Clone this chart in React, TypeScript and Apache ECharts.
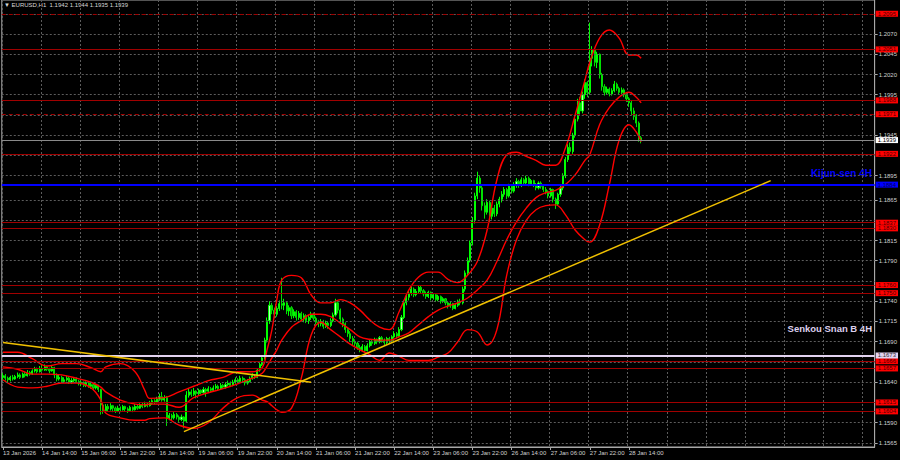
import React, { useEffect, useRef } from "react";
import * as echarts from "echarts";

const TITLE = "\u25BC EURUSD,H1  1.1942 1.1944 1.1935 1.1939";
const timeLabels = [
  "13 Jan 2026", "14 Jan 14:00", "15 Jan 06:00", "15 Jan 22:00", "16 Jan 14:00",
  "19 Jan 06:00", "19 Jan 22:00", "20 Jan 14:00", "21 Jan 06:00", "21 Jan 22:00",
  "22 Jan 14:00", "23 Jan 06:00", "23 Jan 22:00", "26 Jan 14:00", "27 Jan 06:00",
  "27 Jan 22:00", "28 Jan 14:00",
];
const LABEL_STEP = 16;
const TOTAL_SLOTS = 357;

const firstOpen = 1.1646;
const closes = [
  1.1648,1.1645,1.1643,1.1646,1.1644,1.1647,1.1649,1.1646,1.1650,1.1648,
  1.1652,1.1650,1.1654,1.1656,1.1653,1.1657,1.1655,1.1659,1.1656,1.1654,
  1.1658,1.1649,1.1644,1.1646,1.1641,1.1643,1.1645,1.1640,1.1642,1.1644,
  1.1641,1.1638,1.1640,1.1636,1.1639,1.1635,1.1637,1.1633,1.1636,1.1631,
  1.1612,1.1605,1.1610,1.1607,1.1611,1.1608,1.1604,1.1608,1.1606,1.1610,
  1.1607,1.1605,1.1609,1.1606,1.1610,1.1608,1.1612,1.1610,1.1613,1.1611,
  1.1614,1.1617,1.1615,1.1619,1.1622,1.1618,1.1621,1.1596,1.1599,1.1596,
  1.1600,1.1597,1.1594,1.1597,1.1592,1.1624,1.1628,1.1625,1.1629,1.1626,
  1.1630,1.1627,1.1631,1.1629,1.1632,1.1630,1.1633,1.1635,1.1632,1.1636,
  1.1634,1.1637,1.1639,1.1636,1.1640,1.1643,1.1641,1.1645,1.1643,1.1639,
  1.1641,1.1645,1.1648,1.1646,1.1655,1.1662,1.1670,1.1692,1.1716,1.1735,
  1.1729,1.1724,1.1731,1.1737,1.1735,1.1738,1.1728,1.1732,1.1722,1.1727,
  1.1720,1.1725,1.1718,1.1722,1.1716,1.1720,1.1724,1.1719,1.1714,1.1712,
  1.1715,1.1709,1.1713,1.1710,1.1716,1.1723,1.1738,1.1729,1.1718,1.1712,
  1.1705,1.1700,1.1694,1.1690,1.1688,1.1683,1.1680,1.1684,1.1679,1.1685,
  1.1690,1.1688,1.1693,1.1690,1.1695,1.1692,1.1689,1.1694,1.1691,1.1696,
  1.1700,1.1697,1.1705,1.1720,1.1738,1.1745,1.1750,1.1755,1.1748,1.1752,
  1.1757,1.1753,1.1749,1.1746,1.1751,1.1744,1.1748,1.1742,1.1746,1.1740,
  1.1743,1.1738,1.1734,1.1737,1.1731,1.1735,1.1740,1.1738,1.1755,1.1775,
  1.1790,1.1812,1.1840,1.1870,1.1892,1.1880,1.1858,1.1850,1.1862,1.1845,
  1.1855,1.1848,1.1860,1.1866,1.1872,1.1878,1.1870,1.1882,1.1876,1.1884,
  1.1888,1.1883,1.1890,1.1886,1.1892,1.1885,1.1889,1.1884,1.1880,1.1886,
  1.1882,1.1878,1.1875,1.1870,1.1878,1.1866,1.1860,1.1872,1.1880,1.1895,
  1.1915,1.1930,1.1925,1.1945,1.1965,1.1985,1.1975,1.1995,1.2010,1.1998,
  1.2040,1.2050,1.2035,1.2045,1.2020,1.2005,1.1998,1.2002,1.1996,1.2000,
  1.2008,1.2003,1.1998,1.2001,1.1995,1.1990,1.1985,1.1975,1.1968,1.1960,
  1.1942,1.1939,
];
const highs = [
  1.1651,1.1650,1.1647,1.1648,1.1649,1.1649,1.1652,1.1651,1.1652,1.1653,
  1.1655,1.1654,1.1656,1.1659,1.1658,1.1660,1.1661,1.1662,1.1660,1.1658,
  1.1661,1.1659,1.1651,1.1649,1.1648,1.1646,1.1648,1.1647,1.1645,1.1646,
  1.1646,1.1643,1.1642,1.1641,1.1641,1.1640,1.1639,1.1638,1.1638,1.1637,
  1.1632,1.1614,1.1613,1.1613,1.1614,1.1612,1.1610,1.1611,1.1610,1.1612,
  1.1611,1.1609,1.1611,1.1610,1.1613,1.1612,1.1614,1.1615,1.1616,1.1615,
  1.1617,1.1619,1.1619,1.1622,1.1626,1.1628,1.1624,1.1623,1.1602,1.1601,
  1.1603,1.1602,1.1599,1.1600,1.1598,1.1629,1.1632,1.1631,1.1633,1.1630,
  1.1632,1.1631,1.1634,1.1633,1.1635,1.1634,1.1636,1.1638,1.1637,1.1639,
  1.1638,1.1640,1.1642,1.1641,1.1643,1.1646,1.1645,1.1648,1.1647,1.1645,
  1.1644,1.1647,1.1651,1.1650,1.1657,1.1664,1.1673,1.1695,1.1720,1.1740,
  1.1738,1.1732,1.1734,1.1741,1.1769,1.1743,1.1740,1.1735,1.1734,1.1730,
  1.1729,1.1728,1.1727,1.1725,1.1724,1.1723,1.1727,1.1726,1.1721,1.1717,
  1.1718,1.1717,1.1716,1.1715,1.1719,1.1726,1.1743,1.1740,1.1731,1.1720,
  1.1714,1.1708,1.1703,1.1697,1.1693,1.1690,1.1686,1.1687,1.1686,1.1688,
  1.1692,1.1693,1.1695,1.1694,1.1697,1.1697,1.1694,1.1696,1.1696,1.1698,
  1.1703,1.1702,1.1708,1.1723,1.1741,1.1749,1.1753,1.1758,1.1757,1.1755,
  1.1760,1.1759,1.1755,1.1752,1.1753,1.1752,1.1750,1.1749,1.1748,1.1747,
  1.1745,1.1744,1.1740,1.1739,1.1738,1.1737,1.1742,1.1743,1.1758,1.1778,
  1.1794,1.1815,1.1844,1.1874,1.1900,1.1895,1.1883,1.1862,1.1866,1.1864,
  1.1858,1.1859,1.1863,1.1869,1.1876,1.1881,1.1880,1.1885,1.1884,1.1887,
  1.1892,1.1890,1.1893,1.1892,1.1895,1.1894,1.1891,1.1890,1.1886,1.1888,
  1.1888,1.1884,1.1881,1.1877,1.1880,1.1879,1.1868,1.1874,1.1883,1.1898,
  1.1918,1.1934,1.1936,1.1948,1.1969,1.1990,1.1992,1.1999,1.2014,1.2012,
  1.2084,1.2055,1.2052,1.2048,1.2046,1.2022,1.2008,1.2005,1.2004,1.2003,
  1.2012,1.2010,1.2005,1.2004,1.2003,1.1997,1.1992,1.1988,1.1979,1.1971,
  1.1962,1.1944,
];
const lows = [
  1.1643,1.1642,1.1640,1.1641,1.1642,1.1643,1.1645,1.1644,1.1645,1.1646,
  1.1647,1.1648,1.1649,1.1652,1.1651,1.1652,1.1653,1.1654,1.1654,1.1651,
  1.1653,1.1645,1.1641,1.1642,1.1639,1.1639,1.1641,1.1638,1.1638,1.1640,
  1.1639,1.1636,1.1635,1.1634,1.1634,1.1633,1.1632,1.1630,1.1631,1.1628,
  1.1600,1.1601,1.1603,1.1604,1.1605,1.1603,1.1602,1.1603,1.1603,1.1605,
  1.1604,1.1602,1.1604,1.1603,1.1605,1.1606,1.1607,1.1608,1.1609,1.1609,
  1.1610,1.1612,1.1613,1.1614,1.1617,1.1616,1.1616,1.1586,1.1593,1.1593,
  1.1594,1.1594,1.1591,1.1592,1.1583,1.1590,1.1621,1.1622,1.1623,1.1620,
  1.1624,1.1625,1.1626,1.1622,1.1627,1.1628,1.1629,1.1631,1.1630,1.1631,
  1.1632,1.1632,1.1635,1.1634,1.1635,1.1638,1.1639,1.1640,1.1640,1.1636,
  1.1637,1.1640,1.1643,1.1644,1.1645,1.1653,1.1660,1.1668,1.1689,1.1712,
  1.1724,1.1719,1.1721,1.1728,1.1730,1.1729,1.1724,1.1722,1.1718,1.1719,
  1.1716,1.1717,1.1715,1.1714,1.1713,1.1712,1.1717,1.1716,1.1711,1.1708,
  1.1709,1.1706,1.1707,1.1706,1.1708,1.1714,1.1721,1.1725,1.1714,1.1708,
  1.1701,1.1696,1.1690,1.1686,1.1684,1.1680,1.1677,1.1678,1.1676,1.1678,
  1.1683,1.1685,1.1686,1.1687,1.1688,1.1689,1.1686,1.1687,1.1688,1.1689,
  1.1694,1.1694,1.1695,1.1703,1.1718,1.1735,1.1741,1.1747,1.1745,1.1746,
  1.1750,1.1750,1.1746,1.1743,1.1744,1.1741,1.1742,1.1739,1.1740,1.1737,
  1.1738,1.1735,1.1731,1.1732,1.1729,1.1730,1.1733,1.1735,1.1736,1.1752,
  1.1772,1.1788,1.1809,1.1836,1.1866,1.1874,1.1852,1.1842,1.1847,1.1838,
  1.1841,1.1844,1.1845,1.1856,1.1862,1.1869,1.1866,1.1868,1.1873,1.1874,
  1.1880,1.1880,1.1881,1.1883,1.1884,1.1882,1.1883,1.1881,1.1877,1.1878,
  1.1879,1.1875,1.1872,1.1867,1.1868,1.1862,1.1854,1.1858,1.1869,1.1877,
  1.1892,1.1912,1.1920,1.1922,1.1942,1.1962,1.1970,1.1972,1.1990,1.1992,
  1.1995,1.2030,1.2030,1.2028,1.2015,1.2000,1.1994,1.1995,1.1993,1.1994,
  1.1998,1.2000,1.1995,1.1996,1.1992,1.1986,1.1980,1.1970,1.1964,1.1955,
  1.1937,1.1935,
];

const bandIdx = [
  0,6,12,18,24,30,36,40,42,48, 54,58,60,66,72,78,84,90,96,102,
  106,108,110,112,114,118,122,126,130,134, 138,142,146,150,154,158,162,166,170,174,
  178,182,186,190,194,198,202,206,210,214, 218,222,226,230,234,238,240,244,248,252,
  256,259,261,
];
const bandUpper = [
  1.1677,1.1677,1.1669,1.1660,1.1663,1.1663,1.1658,1.1653,1.1659,1.1663,
  1.1653,1.1630,1.1620,1.1621,1.1628,1.1635,1.1642,1.1646,1.1653,1.1653,
  1.1658,1.1680,1.1705,1.1742,1.1766,1.1772,1.1769,1.1748,1.1738,1.1738,
  1.1742,1.1738,1.1729,1.1717,1.1708,1.1705,1.1727,1.1754,1.1770,1.1776,
  1.1776,1.1767,1.1763,1.1772,1.1789,1.1828,1.1890,1.1921,1.1924,1.1919,
  1.1914,1.1908,1.1908,1.1929,1.1970,1.2013,1.2035,1.2065,1.2075,1.2065,
  1.2044,1.2044,1.2040,
];
const bandMiddle = [
  1.1659,1.1656,1.1650,1.1650,1.1649,1.1645,1.1640,1.1634,1.1628,1.1618,
  1.1613,1.1612,1.1613,1.1613,1.1609,1.1621,1.1627,1.1632,1.1638,1.1645,
  1.1651,1.1660,1.1670,1.1680,1.1692,1.1708,1.1716,1.1724,1.1724,1.1721,
  1.1713,1.1705,1.1696,1.1693,1.1692,1.1692,1.1696,1.1701,1.1711,1.1721,
  1.1729,1.1734,1.1738,1.1744,1.1754,1.1766,1.1789,1.1816,1.1838,1.1855,
  1.1868,1.1874,1.1877,1.1884,1.1896,1.1914,1.1921,1.1958,1.1979,1.1992,
  1.1998,1.1992,1.1985,
];
const bandLower = [
  1.1643,1.1634,1.1633,1.1635,1.1639,1.1639,1.1633,1.1618,1.1602,1.1596,
  1.1593,1.1593,1.1595,1.1596,1.1587,1.1583,1.1590,1.1608,1.1621,1.1624,
  1.1618,1.1616,1.1611,1.1606,1.1603,1.1608,1.1645,1.1698,1.1714,1.1705,
  1.1696,1.1687,1.1680,1.1674,1.1667,1.1676,1.1672,1.1667,1.1667,1.1667,
  1.1671,1.1676,1.1690,1.1705,1.1702,1.1686,1.1705,1.1772,1.1816,1.1840,
  1.1853,1.1858,1.1859,1.1847,1.1828,1.1816,1.1813,1.1834,1.1884,1.1939,
  1.1958,1.1949,1.1937,
];

const gridLevels = [
  1.1565,1.1590,1.1615,1.1640,1.1665,1.1690,1.1715,1.1740,1.1765,1.1790,1.1815,
  1.1840,1.1865,1.1895,1.1920,1.1945,1.1970,1.1995,1.2020,1.2045,1.2070,1.2095,
];
const priceLabels = [
  1.1565,1.1590,1.1640,1.1690,1.1715,1.1740,1.1790,1.1815,1.1865,1.1895,
  1.1945,1.1995,1.2020,1.2045,1.2070,
];
const redLevels = [1.2095,1.2051,1.1988,1.1971,1.1922,1.1837,1.1830,1.1760,1.1750,1.1666,1.1657,1.1615,1.1604];
const dashedLevels = [1.2095,1.1971];
const kijunLevel = 1.1884;
const senkouBLevel = 1.1673;
const bidLevel = 1.1939;
const trendDown = [[0, 1.1689], [126, 1.1640]];
const trendUp = [[74, 1.1579], [314, 1.1889]];

const Y_MIN = 1.156;
const Y_MAX = 1.2112;
const FONT = "'Liberation Sans', Arial, sans-serif";

export default function App() {
  const ref = useRef<HTMLDivElement>(null);
  useEffect(() => {
    const chart = echarts.init(ref.current!, null, { renderer: "svg" });
    const candleData = closes.map((c, i) => [i === 0 ? firstOpen : closes[i - 1], c, lows[i], highs[i]]);
    const cats = Array.from({ length: TOTAL_SLOTS }, (_, i) => String(i));
    const isGridSlot = (i: number) => i % LABEL_STEP === 0;
    const isTimeLabel = (i: number) => i % LABEL_STEP === 0 && i / LABEL_STEP < timeLabels.length;
    const band = (vals: number[]) => bandIdx.map((b, k) => [b, vals[k]]);
    const boxLabel = (bg: string, fg: string) => ({
      show: true,
      position: "end",
      distance: 1,
      formatter: (p: any) => Number(p.value).toFixed(4),
      backgroundColor: bg,
      color: fg,
      fontSize: 6,
      lineHeight: 6,
      fontFamily: FONT,
      padding: [0, 2, 0, 2],
    });

    const option: any = {
      animation: false,
      backgroundColor: "#000000",
      grid: { left: 1, right: 25, top: 0, bottom: 13, show: true, borderColor: "#a8a8a8", borderWidth: 1, backgroundColor: "#000000" },
      xAxis: {
        type: "category",
        data: cats,
        boundaryGap: true,
        axisLine: { show: true, lineStyle: { color: "#a8a8a8" } },
        axisTick: { show: true, interval: (i: number) => isTimeLabel(i), alignWithLabel: true, length: 3, lineStyle: { color: "#a8a8a8" } },
        axisLabel: {
          interval: (i: number) => isTimeLabel(i),
          formatter: (_v: string, i: number) => timeLabels[i / LABEL_STEP] ?? "",
          align: "left",
          color: "#d0d0d0",
          fontSize: 6,
          fontFamily: FONT,
          margin: 3,
          hideOverlap: false,
        },
        splitLine: { show: true, interval: (i: number) => isGridSlot(i), lineStyle: { color: "#5c5c5c", type: [2, 2], width: 1 } },
      },
      yAxis: {
        type: "value",
        position: "right",
        min: Y_MIN,
        max: Y_MAX,
        scale: true,
        axisLine: { show: true, lineStyle: { color: "#a8a8a8" } },
        axisTick: { show: true, customValues: priceLabels, length: 3, lineStyle: { color: "#a8a8a8" } },
        axisLabel: { customValues: priceLabels, formatter: (v: number) => v.toFixed(4), color: "#d0d0d0", fontSize: 6, lineHeight: 6, fontFamily: FONT, margin: 4 },
        splitLine: { show: false },
      },
      graphic: [
        { type: "text", left: 4, top: 2, style: { text: TITLE, fill: "#d8d8d8", font: `6px ${FONT}` } },
        { type: "text", right: 28, top: 168, style: { text: "Kijun-sen 4H", fill: "#0000ff", font: `bold 10px ${FONT}` } },
        { type: "text", right: 28, top: 323, style: { text: "Senkou Snan B 4H", fill: "#ddd0ee", font: `bold 9.5px ${FONT}` } },
      ],
      series: [
        {
          type: "line",
          data: [],
          z: 1,
          silent: true,
          markLine: {
            silent: true,
            precision: 5,
            symbol: ["none", "none"],
            label: { show: false },
            lineStyle: { color: "#5c5c5c", type: [2, 2], width: 1 },
            data: gridLevels.map((v) => ({ yAxis: v })),
          },
        },
        {
          type: "line",
          data: [],
          z: 2,
          silent: true,
          markLine: {
            silent: true,
            precision: 5,
            symbol: ["none", "none"],
            data: [
              ...redLevels.map((v) => ({
                yAxis: v,
                lineStyle: { color: "#a00000", width: 1, type: dashedLevels.includes(v) ? [4, 3] : "solid" },
                label: boxLabel("#ff0000", "#4a0000"),
              })),
              { yAxis: bidLevel, lineStyle: { color: "#8a8a8a", width: 1, type: "solid" }, label: boxLabel("#ffffff", "#000000") },
              { yAxis: senkouBLevel, lineStyle: { color: "#e2d2f0", width: 2, type: "solid" }, label: boxLabel("#e2d2f0", "#303030") },
              { yAxis: kijunLevel, lineStyle: { color: "#0000ff", width: 2, type: "solid" }, label: boxLabel("#0000ff", "#000060") },
            ],
          },
        },
        {
          type: "candlestick",
          data: candleData,
          z: 3,
          barWidth: 1.6,
          itemStyle: { color: "#b8ffb8", color0: "#00a800", borderColor: "#00ff00", borderColor0: "#00e000", borderWidth: 1 },
        },
        { type: "line", data: band(bandUpper), smooth: 0.4, symbol: "none", z: 4, lineStyle: { color: "#ff0000", width: 1.4 } },
        { type: "line", data: band(bandMiddle), smooth: 0.4, symbol: "none", z: 4, lineStyle: { color: "#ff0000", width: 1.4 } },
        { type: "line", data: band(bandLower), smooth: 0.4, symbol: "none", z: 4, lineStyle: { color: "#ff0000", width: 1.4 } },
        { type: "line", data: trendDown, symbol: "none", z: 5, lineStyle: { color: "#f0c000", width: 1.5 } },
        { type: "line", data: trendUp, symbol: "none", z: 5, lineStyle: { color: "#f0c000", width: 1.5 } },
      ],
    };
    chart.setOption(option);
    return () => chart.dispose();
  }, []);
  return <div ref={ref} style={{ position: "fixed", left: 0, top: 0, width: 900, height: 460, background: "#000" }} />;
}
